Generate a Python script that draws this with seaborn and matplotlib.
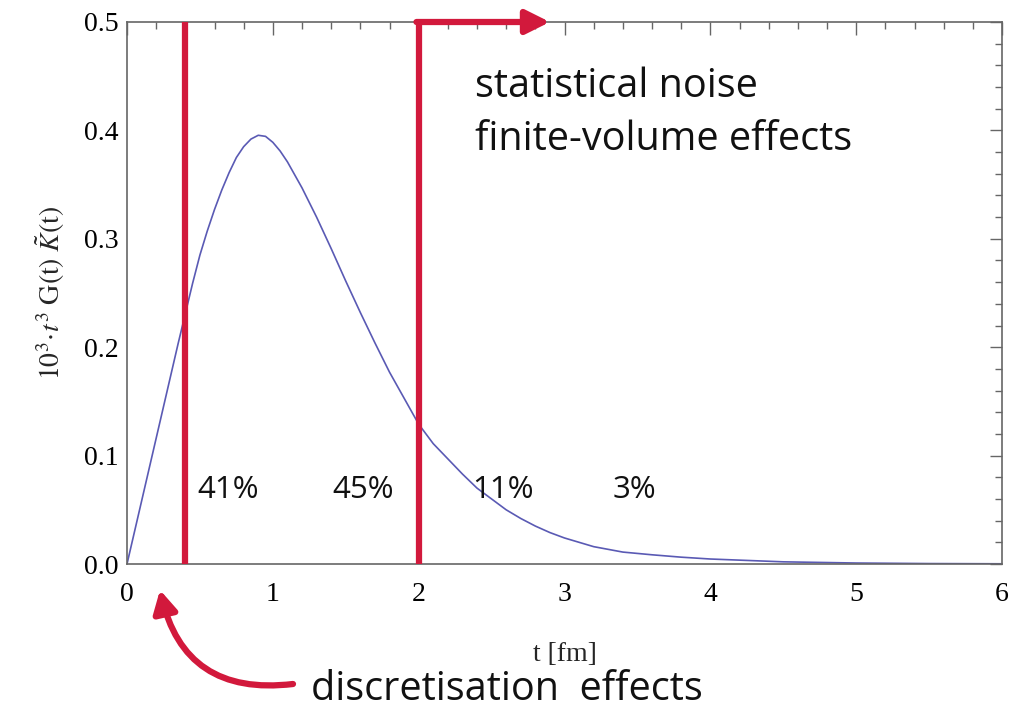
import numpy as np
import pandas as pd
import matplotlib
matplotlib.use("Agg")
import matplotlib.pyplot as plt
import seaborn as sns
from matplotlib.ticker import MultipleLocator, FormatStrFormatter

# ---- data ----
t_vals = [0.0, 0.1, 0.2, 0.3, 0.35, 0.4, 0.45, 0.5, 0.55, 0.6, 0.65, 0.7, 0.75, 0.8, 0.85,
          0.9, 0.95, 1.0, 1.05, 1.1, 1.2, 1.3, 1.4, 1.5, 1.6, 1.7, 1.8, 1.9, 2.0,
          2.1, 2.2, 2.3, 2.4, 2.5, 2.6, 2.7, 2.8, 2.9, 3.0, 3.2, 3.4, 3.6, 3.8,
          4.0, 4.5, 5.0, 5.5, 6.0]
g_vals = [0.0, 0.058, 0.116, 0.174, 0.203, 0.231, 0.259, 0.285, 0.307, 0.327, 0.345,
          0.361, 0.375, 0.385, 0.392, 0.3955, 0.3945, 0.389, 0.381, 0.371, 0.347,
          0.320, 0.291, 0.261, 0.232, 0.204, 0.177, 0.153, 0.129, 0.111, 0.097,
          0.083, 0.070, 0.060, 0.050, 0.042, 0.035, 0.029, 0.024, 0.016, 0.011,
          0.0085, 0.0063, 0.0046, 0.0020, 0.0009, 0.0004, 0.0002]
cut_lines = [0.4, 2.0]
pct_labels = ["41%", "45%", "11%", "3%"]
pct_x = [0.48, 1.41, 2.37, 3.33]
pct_y = 0.068

RED = "#D2193C"
BLUE = "#5a5ab4"

sns.set_theme(style="white")
plt.rcParams["font.family"] = ["Liberation Serif", "DejaVu Serif"]
plt.rcParams["mathtext.fontset"] = "stix"

fig = plt.figure(figsize=(10.15, 7.11), dpi=100)
ax = fig.add_axes([127 / 1015, 1 - 564 / 711, (1002 - 127) / 1015, (564 - 22) / 711])

df = pd.DataFrame({"t": t_vals, "g": g_vals})
sns.lineplot(data=df, x="t", y="g", ax=ax, color=BLUE, linewidth=1.2)

ax.set_xlim(0, 6)
ax.set_ylim(0, 0.5)
ax.xaxis.set_major_locator(MultipleLocator(1))
ax.xaxis.set_minor_locator(MultipleLocator(0.2))
ax.yaxis.set_major_locator(MultipleLocator(0.1))
ax.yaxis.set_minor_locator(MultipleLocator(0.02))
ax.yaxis.set_major_formatter(FormatStrFormatter("%.1f"))
ax.tick_params(which="both", direction="in", top=True, right=True, color="#666666",
               width=1.0, labelsize=20, labelcolor="black")
ax.tick_params(axis="x", which="major", pad=13)
ax.tick_params(axis="y", which="major", pad=6)
ax.tick_params(which="major", length=9)
ax.tick_params(which="minor", length=5)
for s in ax.spines.values():
    s.set_color("#666666")
    s.set_linewidth(1.2)

ax.set_xlabel("t [fm]", fontsize=20, labelpad=25)
ax.set_ylabel(r"$10^3\!\cdot\! t^3\ \mathrm{G(t)}\ \tilde{K}\mathrm{(t)}$", fontsize=20, labelpad=12)

# red cut lines
for xc in cut_lines:
    ax.plot([xc, xc], [0, 0.5], color=RED, linewidth=4.5, solid_capstyle="butt", clip_on=False, zorder=3)
ax.annotate("", xy=(2.9, 0.5), xytext=(1.985, 0.5), xycoords="data",
            arrowprops=dict(arrowstyle="-|>,head_length=1.2,head_width=0.6", color=RED, lw=4.5,
                            shrinkA=0, shrinkB=0), annotation_clip=False, zorder=4)

sans = ["Open Sans", "DejaVu Sans"]
for lab, xp in zip(pct_labels, pct_x):
    ax.text(xp, pct_y, lab, fontsize=22.5, family=sans, va="center", ha="left", color="#111111")

fig.text(475 / 1015, 1 - 87 / 711, "statistical noise", fontsize=28.5, family=sans, va="center", ha="left", color="#111111")
fig.text(475 / 1015, 1 - 140 / 711, "finite-volume effects", fontsize=28.5, family=sans, va="center", ha="left", color="#111111")
fig.text(311 / 1015, 1 - 690 / 711, "discretisation  effects", fontsize=28.5, family=sans, va="center", ha="left", color="#111111")

ax.annotate("", xy=(160, 711 - 590), xytext=(293, 711 - 684), xycoords="figure pixels",
            textcoords="figure pixels",
            arrowprops=dict(arrowstyle="-|>,head_length=1.1,head_width=0.6", color=RED, lw=4.5,
                            connectionstyle="arc3,rad=-0.45", shrinkA=0, shrinkB=0),
            annotation_clip=False)

fig.savefig("out.png", dpi=100)
